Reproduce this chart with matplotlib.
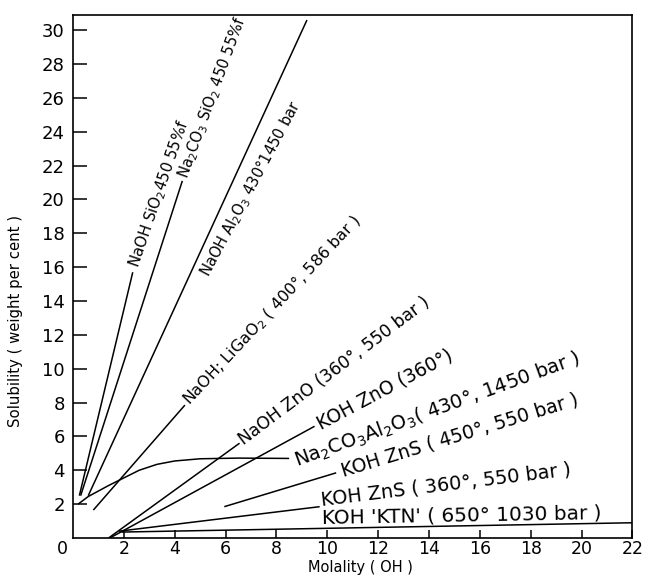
import numpy as np
import matplotlib.pyplot as plt

# solubility curves (molality OH, weight per cent)
naoh_sio2_x = [0.25, 2.35]
naoh_sio2_y = [2.5, 15.7]
na2co3_sio2_x = [0.3, 4.3]
na2co3_sio2_y = [2.5, 21.1]
naoh_al2o3_x = [0.6, 9.2]
naoh_al2o3_y = [2.5, 30.6]
naoh_ligao2_x = [0.8, 4.4]
naoh_ligao2_y = [1.65, 7.85]
naoh_zno_x = [1.4, 6.55]
naoh_zno_y = [0.0, 5.6]
koh_zno_x = [1.45, 9.5]
koh_zno_y = [0.0, 6.6]
na2co3_al2o3_x = [0.2, 0.6, 1.4, 2.0, 2.6, 3.3, 4.0, 5.0, 6.5, 8.5]
na2co3_al2o3_y = [2.0, 2.45, 3.1, 3.55, 4.0, 4.35, 4.55, 4.68, 4.72, 4.7]
koh_zns450_x = [5.95, 10.35]
koh_zns450_y = [1.85, 3.85]
koh_zns360_x = [1.8, 9.7]
koh_zns360_y = [0.4, 1.85]
koh_ktn_x = [1.9, 22.0]
koh_ktn_y = [0.35, 0.9]

series = [
    (naoh_sio2_x, naoh_sio2_y),
    (na2co3_sio2_x, na2co3_sio2_y),
    (naoh_al2o3_x, naoh_al2o3_y),
    (naoh_ligao2_x, naoh_ligao2_y),
    (naoh_zno_x, naoh_zno_y),
    (koh_zno_x, koh_zno_y),
    (na2co3_al2o3_x, na2co3_al2o3_y),
    (koh_zns450_x, koh_zns450_y),
    (koh_zns360_x, koh_zns360_y),
    (koh_ktn_x, koh_ktn_y),
]

labels = [
    r"NaOH SiO$_2$450 55%f",
    r"Na$_2$CO$_3$ SiO$_2$ 450 55%f",
    r"NaOH Al$_2$O$_3$ 430°1450 bar",
    r"NaOH; LiGaO$_2$ ( 400°, 586 bar )",
    "NaOH ZnO (360°, 550 bar )",
    "KOH ZnO (360°)",
    r"Na$_2$CO$_3$Al$_2$O$_3$( 430°, 1450 bar )",
    "KOH ZnS ( 450°, 550 bar )",
    "KOH ZnS ( 360°, 550 bar )",
    "KOH 'KTN' ( 650° 1030 bar )",
]
# where each label starts (data coords), its angle on screen and its size
label_pos = [(2.4, 16.0), (4.35, 21.3), (5.15, 15.5), (4.45, 8.0), (6.6, 5.7),
             (9.65, 6.7), (8.75, 4.5), (10.55, 3.95), (9.75, 2.25), (9.8, 1.2)]
label_rot = [71, 70, 62, 47, 37, 28, 20, 17, 7, 1]
label_size = [10.8, 10.6, 10.6, 11.5, 12.3, 13.5, 14.0, 13.6, 13.9, 14.4]

x_ticks = list(range(2, 23, 2))
y_ticks = list(range(2, 31, 2))

fig = plt.figure(figsize=(6.46, 5.76), dpi=100)
ax = fig.add_axes([0.113, 0.066, 0.866, 0.908])

for (xs, ys) in series:
    ax.plot(xs, ys, color='black', lw=1.1, solid_capstyle='butt')

for text, (tx, ty), rot, fs in zip(labels, label_pos, label_rot, label_size):
    ax.text(tx, ty, text, rotation=rot, rotation_mode='anchor',
            ha='left', va='center', fontsize=fs)

ax.set_xlim(0, 22)
ax.set_ylim(0, 30.9)
ax.set_xticks(x_ticks)
ax.set_yticks(y_ticks)
ax.tick_params(axis='x', direction='in', length=6, width=1.1, labelsize=12.5, pad=1.5)
ax.tick_params(axis='y', direction='in', length=10, width=1.1, labelsize=13, pad=6)
ax.annotate("0", xy=(0, 0), xytext=(-8, -8), textcoords='offset points',
            ha='center', va='center', fontsize=12.5)
for s in ax.spines.values():
    s.set_linewidth(1.2)

ax.set_xlabel("Molality ( OH )", fontsize=10.5, va='bottom')
ax.xaxis.set_label_coords(0.513, -0.0715)
ax.set_ylabel("Solubility ( weight per cent )", fontsize=10.7)
ax.yaxis.set_label_coords(-0.09, 0.415)

fig.savefig("out.png", dpi=100)
plt.close(fig)
